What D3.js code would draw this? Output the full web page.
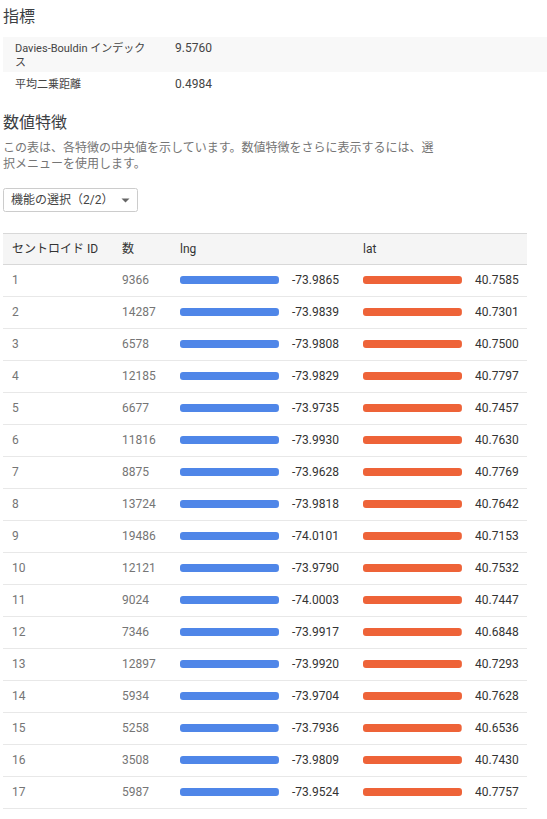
<!DOCTYPE html>
<html lang="ja">
<head>
<meta charset="utf-8">
<script src="https://cdn.jsdelivr.net/npm/d3@7"></script>
<style>
  html, body { margin: 0; padding: 0; background: #fff; overflow: hidden; }
  svg { display: block; }
  text { font-family: Roboto, "Noto Sans CJK JP", sans-serif; font-size: 12px; dominant-baseline: central; }
  .title { font-size: 16px; fill: #3c4043; }
</style>
</head>
<body>
<div id="chart"></div>
<script>
const centroidIds = [1, 2, 3, 4, 5, 6, 7, 8, 9, 10, 11, 12, 13, 14, 15, 16, 17];
const counts = [9366, 14287, 6578, 12185, 6677, 11816, 8875, 13724, 19486, 12121, 9024, 7346, 12897, 5934, 5258, 3508, 5987];
const lng = [-73.9865, -73.9839, -73.9808, -73.9829, -73.9735, -73.9930, -73.9628, -73.9818, -74.0101, -73.9790, -74.0003, -73.9917, -73.9920, -73.9704, -73.7936, -73.9809, -73.9524];
const lat = [40.7585, 40.7301, 40.7500, 40.7797, 40.7457, 40.7630, 40.7769, 40.7642, 40.7153, 40.7532, 40.7447, 40.6848, 40.7293, 40.7628, 40.6536, 40.7430, 40.7757];
const headers = ['セントロイド ID', '数', 'lng', 'lat'];
const metricNames = [['Davies-Bouldin インデック', 'ス'], ['平均二乗距離']];
const metricValues = ['9.5760', '0.4984'];
const descLines = [
  'この表は、各特徴の中央値を示しています。数値特徴をさらに表示するには、選',
  '択メニューを使用します。'
];

const WIDTH = 547;
const HEIGHT = 819;
const BLUE = '#4f86e8';
const ORANGE = '#ee6338';

const svg = d3.select('#chart').append('svg').attr('width', WIDTH).attr('height', HEIGHT);

// ─── METRICS ───
svg.append('text').attr('class', 'title').attr('x', 3).attr('y', 16).text('指標');

svg.append('rect').attr('x', 3).attr('y', 37).attr('width', WIDTH - 3).attr('height', 35).attr('fill', '#f8f8f8');

metricNames.forEach((lines, i) => {
  const y0 = i === 0 ? 48 : 84;
  lines.forEach((line, j) => {
    svg.append('text').attr('x', 15).attr('y', y0 + j * 14).attr('fill', '#444')
      .style('font-size', '11px').text(line);
  });
  svg.append('text').attr('x', 175).attr('y', y0).attr('fill', '#444').text(metricValues[i]);
});

// ─── DESCRIPTION + SELECT ───
svg.append('text').attr('class', 'title').attr('x', 3).attr('y', 122).text('数値特徴');

descLines.forEach((line, i) => {
  svg.append('text').attr('x', 3).attr('y', 148 + i * 16).attr('fill', '#757575').text(line);
});

svg.append('rect').attr('x', 3.5).attr('y', 188.5).attr('width', 134).attr('height', 23).attr('rx', 2)
  .attr('fill', '#fff').attr('stroke', '#ccc');
svg.append('text').attr('x', 11).attr('y', 200).attr('fill', '#444').text('機能の選択（2/2）');
svg.append('path').attr('d', 'M121.5,198.5 L129.5,198.5 L125.5,202.5 Z').attr('fill', '#666');

// ─── TABLE ───
const tableX = 3;
const tableW = 524;
const headerTop = 233;
const rowH = 32;
const headerBottom = 264;

const rowScale = d3.scaleBand()
  .domain(centroidIds)
  .range([headerBottom, headerBottom + rowH * centroidIds.length]);

const lngScale = d3.scaleLinear().domain([0, d3.max(lng, d => Math.abs(d))]).range([0, 99]);
const latScale = d3.scaleLinear().domain([0, d3.max(lat)]).range([0, 99]);

svg.append('rect').attr('x', tableX).attr('y', headerTop).attr('width', tableW)
  .attr('height', headerBottom - headerTop).attr('fill', '#f5f5f5');
[headerTop, headerBottom].forEach(y => {
  svg.append('line').attr('x1', tableX).attr('x2', tableX + tableW)
    .attr('y1', y + 0.5).attr('y2', y + 0.5).attr('stroke', '#d8d8d8');
});

const headerX = [12, 122, 180, 363];
svg.selectAll('.header').data(headers).enter().append('text')
  .attr('class', 'header')
  .attr('x', (d, i) => headerX[i])
  .attr('y', 249)
  .attr('fill', '#333')
  .text(d => d);

const rows = svg.selectAll('.row').data(centroidIds).enter().append('g')
  .attr('class', 'row')
  .attr('transform', d => `translate(0,${rowScale(d)})`);

rows.append('line')
  .attr('x1', tableX).attr('x2', tableX + tableW)
  .attr('y1', rowH + 0.5).attr('y2', rowH + 0.5)
  .attr('stroke', '#e8e8e8');

const midY = rowH / 2;

rows.append('text').attr('x', 12).attr('y', midY).attr('fill', '#757575').text(d => d);
rows.append('text').attr('x', 122).attr('y', midY).attr('fill', '#757575').text((d, i) => counts[i]);

rows.append('rect').attr('x', 180).attr('y', midY - 4).attr('height', 8).attr('rx', 3)
  .attr('width', (d, i) => lngScale(Math.abs(lng[i]))).attr('fill', BLUE);
rows.append('text').attr('x', 292).attr('y', midY).attr('fill', '#333')
  .text((d, i) => lng[i].toFixed(4));

rows.append('rect').attr('x', 363).attr('y', midY - 4).attr('height', 8).attr('rx', 3)
  .attr('width', (d, i) => latScale(lat[i])).attr('fill', ORANGE);
rows.append('text').attr('x', 475).attr('y', midY).attr('fill', '#333')
  .text((d, i) => lat[i].toFixed(4));
</script>
</body>
</html>
